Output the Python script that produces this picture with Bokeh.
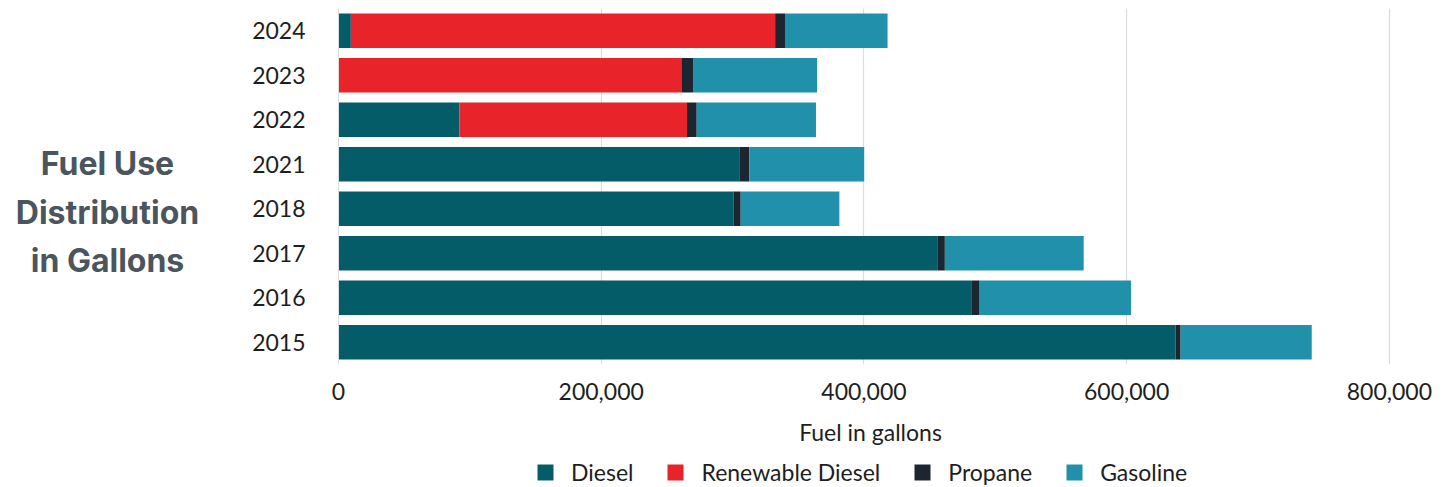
from bokeh.plotting import figure
from bokeh.layouts import row, column
from bokeh.models import ColumnDataSource, FactorRange, Range1d, Legend, NumeralTickFormatter, FixedTicker
from bokeh.core.properties import value
from bokeh.embed import file_html
from bokeh.resources import INLINE

# Fuel use by year (gallons), bottom row first
years = ["2015", "2016", "2017", "2018", "2021", "2022", "2023", "2024"]
diesel = [637300, 482200, 456300, 300900, 305100, 92100, 0, 9400]
renewable_diesel = [0, 0, 0, 0, 0, 173200, 261000, 323000]
propane = [3800, 5900, 5300, 5300, 7600, 7400, 8900, 7500]
gasoline = [99800, 115200, 105700, 75100, 87500, 90800, 94400, 78100]

series = ["Diesel", "Renewable Diesel", "Propane", "Gasoline"]
colors = ["#055C69", "#E8232A", "#1B2631", "#2191AB"]
x_ticks = [0, 200000, 400000, 600000, 800000]
heading = ["Fuel Use", "Distribution", "in Gallons"]

TICK_FONT = "Lato"
TEXT_COLOR = "#1E1E1E"
TOP_H = 455      # height of the chart row
FRAME_TOP = 8
FRAME_BOTTOM = 364

source = ColumnDataSource(data=dict(
    year=years,
    **{"Diesel": diesel, "Renewable Diesel": renewable_diesel,
       "Propane": propane, "Gasoline": gasoline}
))

# Side heading; y is measured in pixels up from the chart row's bottom
side = figure(width=230, height=TOP_H, x_range=Range1d(0, 230),
              y_range=Range1d(TOP_H - FRAME_BOTTOM, TOP_H - FRAME_TOP),
              output_backend="svg", toolbar_location=None, min_border=0,
              min_border_top=FRAME_TOP, min_border_bottom=TOP_H - FRAME_BOTTOM)
side.axis.visible = False
side.grid.visible = False
side.outline_line_color = None
side.text(x=[107, 107, 107], y=[TOP_H - 163, TOP_H - 212, TOP_H - 260],
          text=heading,
          text_font=value("Inter"), text_font_size="32px", text_font_style="bold",
          text_color="#4B555D", text_align="center", text_baseline="middle")

# Stacked horizontal bars
p = figure(width=1223, height=TOP_H, y_range=FactorRange(factors=years),
           x_range=Range1d(0, 810000),
           output_backend="svg", toolbar_location=None,
           min_border_left=108, min_border_right=51, min_border_top=FRAME_TOP,
           min_border_bottom=TOP_H - FRAME_BOTTOM)
p.outline_line_color = None

p.hbar_stack(series, y="year", height=0.77, color=colors, line_color=None, source=source)

p.xaxis.ticker = FixedTicker(ticks=x_ticks)
p.xaxis.formatter = NumeralTickFormatter(format="0,0")
p.xaxis.axis_line_color = None
p.xaxis.major_tick_line_color = None
p.xaxis.minor_tick_line_color = None
p.xaxis.major_label_standoff = 12
p.xaxis.axis_label = "Fuel in gallons"
p.xaxis.axis_label_standoff = 15
p.xaxis.axis_label_text_font = TICK_FONT
p.xaxis.axis_label_text_font_style = "normal"
p.xaxis.axis_label_text_font_size = "23px"
p.xaxis.axis_label_text_color = TEXT_COLOR

p.yaxis.axis_line_color = "#DCDCDC"
p.yaxis.major_tick_line_color = None
p.yaxis.minor_tick_line_color = None
p.yaxis.major_label_standoff = 27

for ax in (p.xaxis, p.yaxis):
    ax.major_label_text_font = TICK_FONT
    ax.major_label_text_font_size = "23px"
    ax.major_label_text_color = TEXT_COLOR

p.xgrid.grid_line_color = "#DCDCDC"
p.xgrid.grid_line_width = 1.2
p.ygrid.grid_line_color = None

# Legend strip under the chart; its bars share the data but fall outside the strip's range
key = figure(width=1453, height=487 - TOP_H, y_range=FactorRange(factors=years),
             x_range=Range1d(-2, -1), output_backend="svg", toolbar_location=None,
             min_border=0)
key.axis.visible = False
key.grid.visible = False
key.outline_line_color = None
key_renderers = key.hbar_stack(series, y="year", height=0.77, color=colors,
                               line_color=None, source=source)

legend = Legend(items=[(name, [r]) for name, r in zip(series, key_renderers)],
                orientation="horizontal", location=(535, 1),
                glyph_width=20, glyph_height=20, label_standoff=16, spacing=32,
                padding=0, margin=0, border_line_color=None, background_fill_alpha=0,
                label_text_font=TICK_FONT, label_text_font_size="23px",
                label_text_color=TEXT_COLOR, label_height=20)
key.add_layout(legend, "center")

layout = column(row(side, p), key)
open("out.html", "w").write(file_html(layout, INLINE))
